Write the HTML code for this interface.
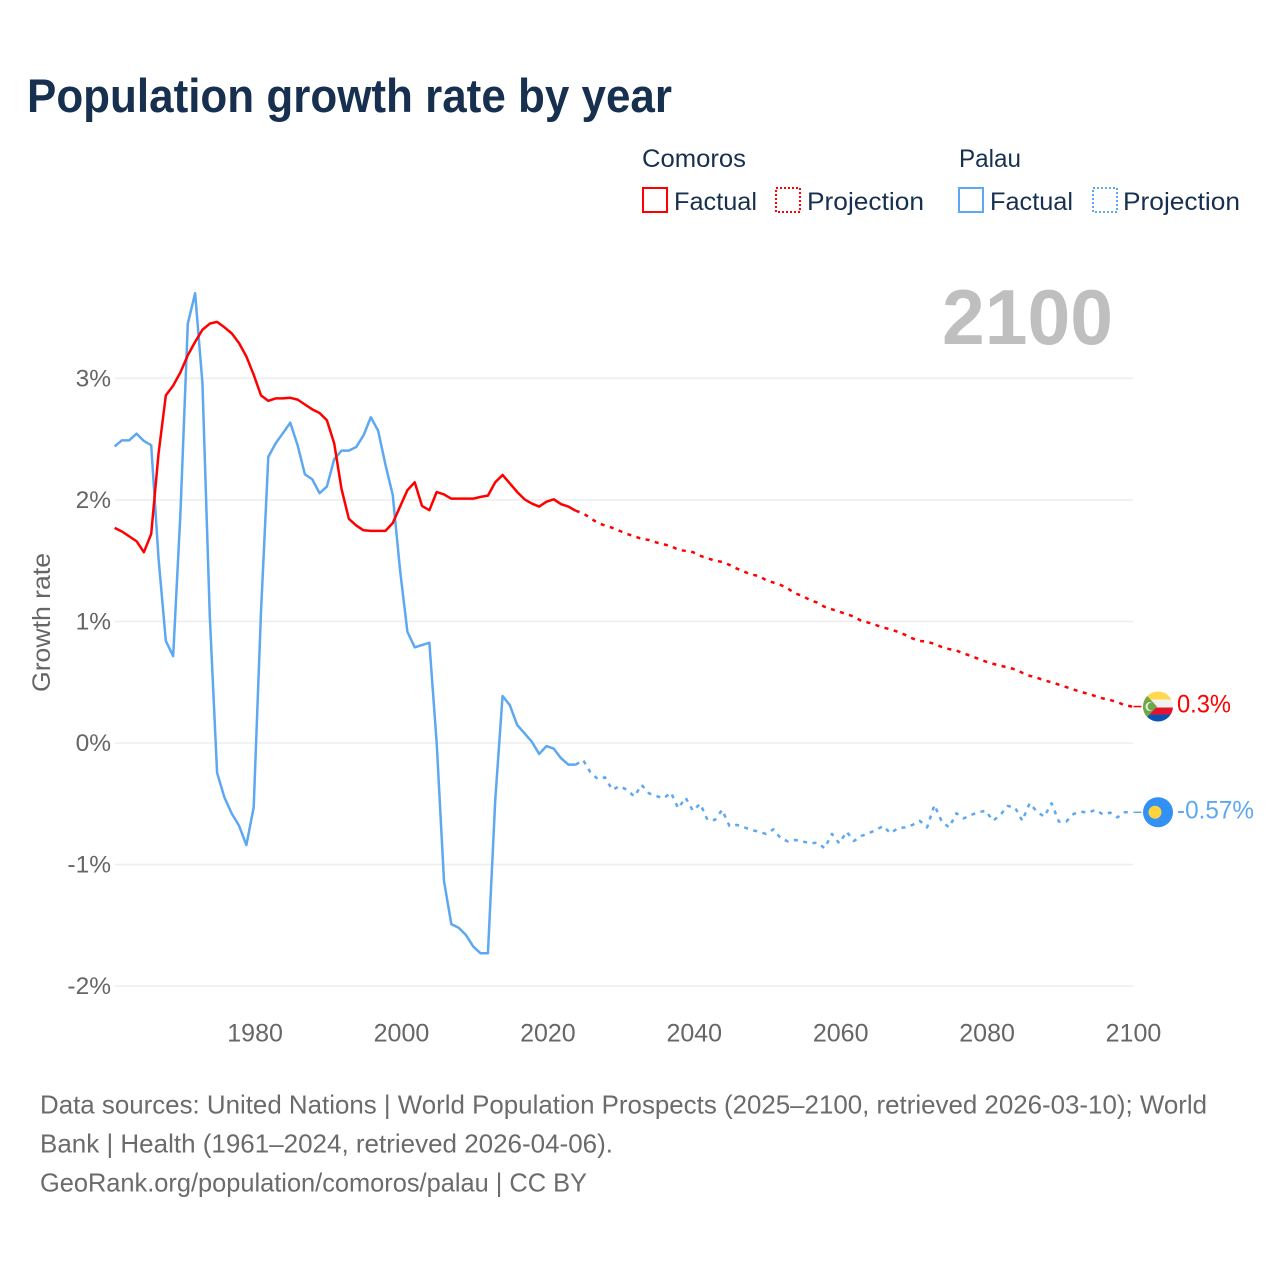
<!DOCTYPE html>
<html lang="en">
<head>
<meta charset="utf-8">
<title>Population growth rate by year</title>
<style>
html,body{margin:0;padding:0;background:#fff;width:1280px;height:1280px;overflow:hidden}
svg{display:block}
text{font-family:"Liberation Sans",Arial,sans-serif}
</style>
</head>
<body>
<svg id="chart" xmlns="http://www.w3.org/2000/svg" width="1280" height="1280" viewBox="0 0 1280 1280">
  <rect x="0" y="0" width="1280" height="1280" fill="#fff"/>
  <text x="27" y="112" font-size="47" font-weight="700" fill="#17304f" textLength="645" lengthAdjust="spacingAndGlyphs">Population growth rate by year</text>

  <g font-size="25" fill="#17304f">
    <text x="642" y="167" textLength="104" lengthAdjust="spacingAndGlyphs">Comoros</text>
    <text x="959" y="167" textLength="62" lengthAdjust="spacingAndGlyphs">Palau</text>
    <rect x="643" y="188" width="24" height="24" fill="none" stroke="#ff0000" stroke-width="2"/>
    <text x="674" y="210" textLength="83" lengthAdjust="spacingAndGlyphs">Factual</text>
    <rect x="776" y="188" width="24" height="24" fill="none" stroke="#ff0000" stroke-width="2" stroke-dasharray="2 2"/>
    <text x="807" y="210" textLength="117" lengthAdjust="spacingAndGlyphs">Projection</text>
    <rect x="959" y="188" width="24" height="24" fill="none" stroke="#5da8f0" stroke-width="2"/>
    <text x="990" y="210" textLength="83" lengthAdjust="spacingAndGlyphs">Factual</text>
    <rect x="1093" y="188" width="24" height="24" fill="none" stroke="#5da8f0" stroke-width="2" stroke-dasharray="2 2"/>
    <text x="1123" y="210" textLength="117" lengthAdjust="spacingAndGlyphs">Projection</text>
  </g>

  <text x="942" y="344" font-size="78" font-weight="700" fill="#bfbfbf" textLength="171" lengthAdjust="spacingAndGlyphs">2100</text>
  <text transform="translate(50,622.5) rotate(-90)" text-anchor="middle" font-size="25" fill="#666" textLength="139" lengthAdjust="spacingAndGlyphs">Growth rate</text>

  <g id="grid"></g>
  <g id="yticks"></g>
  <g id="xticks"></g>
  <g id="series"></g>

  <defs>
    <clipPath id="flagClip"><circle cx="0" cy="0" r="15"/></clipPath>
  </defs>

  <g id="flag-comoros">
    <g clip-path="url(#flagClip)">
      <rect x="-15" y="-15" width="30" height="8" fill="#ffd84f"/>
      <rect x="-15" y="-7" width="30" height="8" fill="#f2f2f2"/>
      <rect x="-15" y="1" width="30" height="7" fill="#e2132e"/>
      <rect x="-15" y="8" width="30" height="7" fill="#0b52b5"/>
      <polygon points="-15,-15 -1,0 -15,15" fill="#6fa84a"/>
      <circle cx="-8" cy="0" r="4.5" fill="#e8f0e0"/>
      <circle cx="-6.4" cy="0" r="4" fill="#6fa84a"/>
    </g>
  </g>
  <text id="label-comoros" x="1177" font-size="25" fill="#ff0000" textLength="54" lengthAdjust="spacingAndGlyphs"></text>

  <g id="flag-palau">
    <circle cx="0" cy="0" r="15" fill="#3390f5"/>
    <circle cx="-3" cy="0" r="6.5" fill="#ffd33d"/>
  </g>
  <text id="label-palau" x="1177" font-size="25" fill="#5da8f0" textLength="77" lengthAdjust="spacingAndGlyphs"></text>

  <g font-size="26" fill="#6b6b6b">
    <text x="40" y="1113.5" textLength="1167" lengthAdjust="spacingAndGlyphs">Data sources: United Nations | World Population Prospects (2025–2100, retrieved 2026-03-10); World</text>
    <text x="40" y="1152.5" textLength="573" lengthAdjust="spacingAndGlyphs">Bank | Health (1961–2024, retrieved 2026-04-06).</text>
    <text x="40" y="1191.5" textLength="547" lengthAdjust="spacingAndGlyphs">GeoRank.org/population/comoros/palau | CC BY</text>
  </g>
</svg>
<script>
const factualStartYear = 1961;
const projectionStartYear = 2024;
const yTickValues = [3, 2, 1, 0, -1, -2];
const yTickLabels = ["3%", "2%", "1%", "0%", "-1%", "-2%"];
const xTickYears = [1980, 2000, 2020, 2040, 2060, 2080, 2100];
const xTickLabels = ["1980", "2000", "2020", "2040", "2060", "2080", "2100"];
const comorosFactual = [1.77,1.74,1.70,1.66,1.57,1.72,2.38,2.86,2.94,3.05,3.19,3.30,3.40,3.45,3.465,3.42,3.37,3.29,3.18,3.03,2.86,2.815,2.835,2.835,2.84,2.825,2.785,2.745,2.715,2.655,2.465,2.09,1.845,1.79,1.75,1.745,1.745,1.745,1.81,1.945,2.08,2.145,1.95,1.915,2.065,2.045,2.01,2.01,2.01,2.01,2.025,2.035,2.145,2.205,2.135,2.065,2.005,1.97,1.945,1.985,2.005,1.965,1.945,1.91];
const comorosProjection = [1.91,1.89,1.85,1.81,1.79,1.77,1.745,1.72,1.70,1.68,1.67,1.65,1.635,1.62,1.59,1.58,1.57,1.54,1.52,1.50,1.49,1.465,1.435,1.41,1.385,1.375,1.34,1.32,1.30,1.27,1.23,1.21,1.175,1.155,1.12,1.10,1.08,1.06,1.04,1.005,0.99,0.97,0.95,0.935,0.915,0.89,0.86,0.84,0.833,0.815,0.79,0.773,0.76,0.737,0.715,0.693,0.67,0.652,0.636,0.622,0.606,0.578,0.553,0.537,0.515,0.50,0.48,0.46,0.44,0.42,0.405,0.385,0.367,0.353,0.337,0.31,0.30];
const palauFactual = [2.44,2.49,2.49,2.545,2.485,2.45,1.52,0.84,0.715,1.9,3.45,3.70,2.96,1.05,-0.245,-0.447,-0.58,-0.68,-0.84,-0.53,1.08,2.355,2.465,2.55,2.635,2.45,2.21,2.17,2.055,2.11,2.335,2.405,2.405,2.435,2.53,2.68,2.57,2.29,2.04,1.42,0.915,0.787,0.806,0.825,0,-1.135,-1.49,-1.52,-1.58,-1.675,-1.73,-1.73,-0.47,0.387,0.31,0.148,0.08,0.01,-0.09,-0.025,-0.047,-0.126,-0.178,-0.178];
const palauProjection = [-0.178,-0.14,-0.24,-0.296,-0.283,-0.386,-0.354,-0.386,-0.44,-0.345,-0.414,-0.436,-0.455,-0.408,-0.537,-0.45,-0.557,-0.50,-0.633,-0.633,-0.55,-0.683,-0.674,-0.693,-0.715,-0.73,-0.748,-0.71,-0.784,-0.81,-0.798,-0.81,-0.825,-0.82,-0.866,-0.748,-0.825,-0.73,-0.806,-0.765,-0.743,-0.715,-0.683,-0.743,-0.70,-0.694,-0.674,-0.64,-0.694,-0.51,-0.647,-0.694,-0.578,-0.62,-0.592,-0.57,-0.557,-0.64,-0.592,-0.518,-0.53,-0.64,-0.496,-0.565,-0.606,-0.496,-0.647,-0.647,-0.584,-0.565,-0.573,-0.55,-0.587,-0.573,-0.612,-0.57,-0.57];
const endLabels = ["0.3%", "-0.57%"];

const NS = "http://www.w3.org/2000/svg";
function xScale(year) { return 114.6 + (year - 1961) * 7.32; }
function yScale(value) { return 743 - value * 121.55; }
function linePath(values, startYear) {
  return values.map(function (v, i) {
    return (i ? "L" : "M") + xScale(startYear + i).toFixed(2) + " " + yScale(v).toFixed(2);
  }).join(" ");
}
function make(tag, attrs, parent) {
  const el = document.createElementNS(NS, tag);
  Object.keys(attrs).forEach(function (k) { el.setAttribute(k, attrs[k]); });
  parent.appendChild(el);
  return el;
}

const gridGroup = document.getElementById("grid");
const yTickGroup = document.getElementById("yticks");
const xTickGroup = document.getElementById("xticks");
const seriesGroup = document.getElementById("series");

yTickValues.forEach(function (v, i) {
  const line = make("line", {x1: 115, x2: 1133, y1: yScale(v), y2: yScale(v), stroke: "#eeeeee", "stroke-width": 1.6}, gridGroup);
  
  
  const label = make("text", {x: 111, y: yScale(v) + 8, "text-anchor": "end", "font-size": 24.5, fill: "#666"}, yTickGroup);
  
  
  label.textContent = yTickLabels[i];
});

xTickYears.forEach(function (year, i) {
  const label = make("text", {x: xScale(year) + 1.4, y: 1041.5, "text-anchor": "middle", "font-size": 25, fill: "#666"}, xTickGroup);
  
  
  label.textContent = xTickLabels[i];
});

function drawSeries(values, startYear, color, dashed, name) {
  const attrs = {d: linePath(values, startYear), fill: "none", stroke: color, "stroke-width": 2.5, "stroke-linejoin": "round"};
  if (dashed) attrs["stroke-dasharray"] = "4 5.5";
  const path = make("path", attrs, seriesGroup);
  
  
}
drawSeries(comorosProjection, projectionStartYear, "#ff0000", true, "comoros-projection-line");
drawSeries(palauProjection, projectionStartYear, "#5da8f0", true, "palau-projection-line");
drawSeries(palauFactual, factualStartYear, "#5da8f0", false, "palau-factual-line");
drawSeries(comorosFactual, factualStartYear, "#ff0000", false, "comoros-factual-line");

function placeEnd(values, color, flagId, labelId, text, connectorName) {
  const last = values[values.length - 1];
  const yy = yScale(last);
  const xEnd = xScale(projectionStartYear + values.length - 1);
  const conn = make("line", {x1: xEnd + 1.4, x2: xEnd + 9.4, y1: yy, y2: yy, stroke: color, "stroke-width": 1.5}, seriesGroup);
  
  
  document.getElementById(flagId).setAttribute("transform", "translate(1158," + yy.toFixed(2) + ")");
  const label = document.getElementById(labelId);
  label.setAttribute("y", (yy + 6).toFixed(2));
  label.textContent = text;
}
placeEnd(comorosProjection, "#ff0000", "flag-comoros", "label-comoros", endLabels[0], "comoros-end-connector");
placeEnd(palauProjection, "#5da8f0", "flag-palau", "label-palau", endLabels[1], "palau-end-connector");
</script>
</body>
</html>
